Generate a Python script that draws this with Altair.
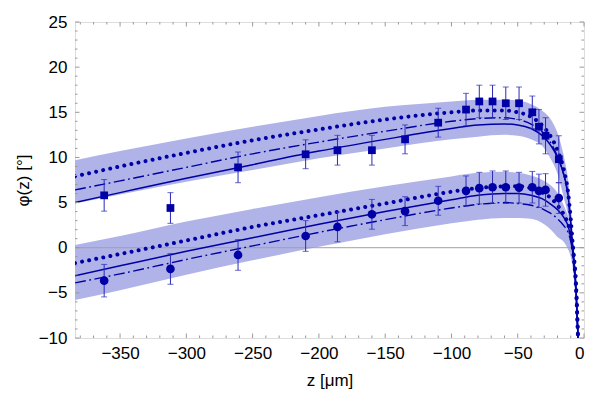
import altair as alt
import pandas as pd

# ---- measured points (two series) -------------------------------------
z_pts = [-362, -312, -261, -210, -186, -160, -135, -110, -89, -79, -69, -59, -49, -39, -34, -29, -19]
sq_val = [5.8, 4.4, 8.9, 10.35, 10.8, 10.8, 12.0, 13.85, 15.3, 16.2, 16.2, 16.0, 16.0, 15.0, 13.4, 12.4, 9.8]
sq_err = [1.75, 1.7, 1.7, 1.6, 1.65, 1.65, 1.6, 1.6, 1.8, 1.8, 1.8, 1.8, 1.8, 1.8, 1.9, 2.0, 2.6]
ci_val = [-3.65, -2.35, -0.8, 1.3, 2.3, 3.7, 4.05, 5.2, 6.3, 6.6, 6.7, 6.7, 6.65, 6.7, 6.3, 6.4, 5.5]
ci_err = [1.8, 1.7, 1.7, 1.7, 1.65, 1.65, 1.6, 1.6, 1.65, 1.75, 1.8, 1.8, 1.7, 1.75, 1.85, 1.8, 1.7]

# ---- model curves, sampled along z ------------------------------------
z_fit = [-384, -350, -300, -250, -200, -150, -100, -80, -60, -50, -40, -30, -25, -20, -15, -12, -10, -8, -6, -4.5]

up_solid = [5.0, 6.1, 7.7, 9.2, 10.7, 12.0, 13.2, 13.6, 13.7, 13.6, 13.2, 12.2, 11.3, 10.0, 8.0, 5.8, 2.8, -1.0, -5.0, -10.0]
up_dash = [6.4, 7.4, 8.9, 10.4, 11.7, 12.9, 14.0, 14.3, 14.4, 14.2, 13.7, 12.6, 11.6, 10.1, 7.9, 5.6, 2.6, -1.2, -5.2, -10.0]
up_dot = [7.9, 9.0, 10.5, 11.9, 13.1, 14.2, 15.0, 15.2, 15.2, 15.0, 14.5, 13.3, 12.3, 10.8, 8.5, 6.1, 3.2, -0.6, -4.6, -10.0]
up_lo = [4.9, 5.9, 7.3, 8.6, 9.9, 11.0, 12.0, 12.3, 12.5, 12.4, 12.0, 11.0, 9.8, 8.2, 5.4, 3.6, 1.6, -1.6, -5.6, -10.0]
up_hi = [9.7, 10.7, 12.1, 13.4, 14.6, 15.6, 16.2, 16.4, 16.4, 16.3, 15.9, 15.0, 14.2, 12.7, 10.0, 7.6, 4.8, 0.6, -4.2, -10.0]

lo_solid = [-3.1, -2.0, -0.4, 1.1, 2.6, 4.0, 5.3, 5.8, 6.0, 6.0, 5.8, 5.3, 4.8, 4.2, 3.3, 2.4, 1.2, -0.8, -4.5, -10.0]
lo_dash = [-3.9, -2.9, -1.3, 0.2, 1.7, 3.1, 4.4, 4.8, 5.0, 4.9, 4.7, 4.2, 3.8, 3.2, 2.4, 1.7, 0.7, -1.1, -4.7, -10.0]
lo_dot = [-1.7, -0.7, 0.8, 2.3, 3.6, 4.9, 6.2, 6.6, 6.8, 6.8, 6.6, 6.0, 5.5, 4.7, 3.6, 2.6, 1.5, -0.5, -4.0, -10.0]
lo_lo = [-5.8, -4.7, -3.0, -1.4, 0.1, 1.5, 2.7, 3.1, 3.3, 3.3, 3.2, 2.6, 2.0, 1.2, 0.6, -0.2, -1.0, -2.8, -5.8, -10.0]
lo_hi = [0.3, 1.3, 2.9, 4.3, 5.6, 6.8, 7.9, 8.3, 8.4, 8.3, 8.0, 7.4, 6.9, 6.1, 4.6, 3.5, 2.3, 0.3, -3.4, -10.0]

# ---- axis ticks ----------------------------------------------------------
x_major = [-350, -300, -250, -200, -150, -100, -50, 0]
y_major = [-10, -5, 0, 5, 10, 15, 20, 25]
x_minor = [v for v in range(-380, 0, 10) if v % 50 != 0]
y_minor = [v for v in range(-10, 26) if v % 5 != 0]

W, H = 509, 316
DARK = "#0000A6"
BAR = "#2A2AB8"
BAND = "#B0B3E8"
FRAME = "#9A9A9A"

xs = alt.Scale(domain=[-384, 0], nice=False, zero=False)
ys = alt.Scale(domain=[-10, 25], nice=False, zero=False)

x_axis = alt.Axis(values=x_major, ticks=False, tickSize=0, domain=False, grid=False,
                  labelFontSize=17, labelColor="black", labelPadding=7,
                  title="z [μm]", titleFontSize=17, titleFontWeight="normal",
                  titleColor="black", titlePadding=11)
y_axis = alt.Axis(values=y_major, ticks=False, tickSize=0, domain=False, grid=False,
                  labelFontSize=17, labelColor="black", labelPadding=8,
                  title="φ(z) [°]", titleFontSize=17, titleFontWeight="normal",
                  titleColor="black", titlePadding=6)

fit = pd.DataFrame({
    "z": z_fit * 2,
    "grp": ["up"] * len(z_fit) + ["lo"] * len(z_fit),
    "solid": up_solid + lo_solid,
    "dash": up_dash + lo_dash,
    "dot": up_dot + lo_dot,
    "bl": up_lo + lo_lo,
    "bh": up_hi + lo_hi,
})

sq = pd.DataFrame({"z": z_pts, "v": sq_val, "lo": [a - b for a, b in zip(sq_val, sq_err)],
                   "hi": [a + b for a, b in zip(sq_val, sq_err)]})
ci = pd.DataFrame({"z": z_pts, "v": ci_val, "lo": [a - b for a, b in zip(ci_val, ci_err)],
                   "hi": [a + b for a, b in zip(ci_val, ci_err)]})

base = alt.Chart(fit)

band = base.mark_area(color=BAND, opacity=1, interpolate="monotone", clip=True).encode(
    x=alt.X("z:Q", scale=xs, axis=x_axis),
    y=alt.Y("bl:Q", scale=ys, axis=y_axis),
    y2="bh:Q",
    detail="grp:N",
)

zero = alt.Chart(pd.DataFrame({"y": [0]})).mark_rule(color="#A0A0A0", strokeWidth=1).encode(
    y=alt.Y("y:Q", scale=ys))

solid = base.mark_line(color=DARK, strokeWidth=1.5, interpolate="monotone", clip=True).encode(
    x=alt.X("z:Q", scale=xs), y=alt.Y("solid:Q", scale=ys), detail="grp:N")
dashdot = base.mark_line(color=DARK, strokeWidth=1.4, strokeDash=[11, 3.5, 1.8, 3.5],
                         interpolate="monotone", clip=True).encode(
    x=alt.X("z:Q", scale=xs), y=alt.Y("dash:Q", scale=ys), detail="grp:N")
dotted = base.mark_line(color=DARK, strokeWidth=4.0, strokeDash=[0.01, 7.2], strokeCap="round",
                        interpolate="monotone", clip=True).encode(
    x=alt.X("z:Q", scale=xs), y=alt.Y("dot:Q", scale=ys), detail="grp:N")


def points(df, shape, size):
    b = alt.Chart(df)
    bars = b.mark_rule(color=BAR, strokeWidth=1).encode(
        x=alt.X("z:Q", scale=xs), y=alt.Y("lo:Q", scale=ys), y2="hi:Q")
    cap_lo = b.mark_tick(color=BAR, orient="horizontal", size=6, thickness=1).encode(
        x=alt.X("z:Q", scale=xs), y=alt.Y("lo:Q", scale=ys))
    cap_hi = b.mark_tick(color=BAR, orient="horizontal", size=6, thickness=1).encode(
        x=alt.X("z:Q", scale=xs), y=alt.Y("hi:Q", scale=ys))
    mk = b.mark_point(shape=shape, filled=True, color=DARK, size=size, opacity=1).encode(
        x=alt.X("z:Q", scale=xs), y=alt.Y("v:Q", scale=ys))
    return [bars, cap_lo, cap_hi, mk]


def xticks(vals, length):
    d = alt.Chart(pd.DataFrame({"v": vals}))
    bot = d.mark_rule(color=FRAME, strokeWidth=1).encode(
        x=alt.X("v:Q", scale=xs), y=alt.value(H), y2=alt.value(H - length))
    top = d.mark_rule(color=FRAME, strokeWidth=1).encode(
        x=alt.X("v:Q", scale=xs), y=alt.value(0), y2=alt.value(length))
    return [bot, top]


def yticks(vals, length):
    d = alt.Chart(pd.DataFrame({"v": vals}))
    left = d.mark_rule(color=FRAME, strokeWidth=1).encode(
        y=alt.Y("v:Q", scale=ys), x=alt.value(0), x2=alt.value(length))
    right = d.mark_rule(color=FRAME, strokeWidth=1).encode(
        y=alt.Y("v:Q", scale=ys), x=alt.value(W), x2=alt.value(W - length))
    return [left, right]


layers = [band, zero, solid, dashdot, dotted]
layers += points(sq, "square", 60)
layers += points(ci, "circle", 75)
layers += xticks(x_major, 4.5) + xticks(x_minor, 2.5)
layers += yticks(y_major, 4.5) + yticks(y_minor, 2.5)

chart = alt.layer(*layers).properties(
    width=W, height=H,
    autosize=alt.AutoSizeParams(type="none"),
    padding={"left": 75, "top": 22, "right": 16, "bottom": 68},
).configure_view(stroke=FRAME, strokeWidth=1).configure(
    font="Liberation Sans"
)

chart.save("out.html", embed_options={"renderer": "svg", "actions": False})
